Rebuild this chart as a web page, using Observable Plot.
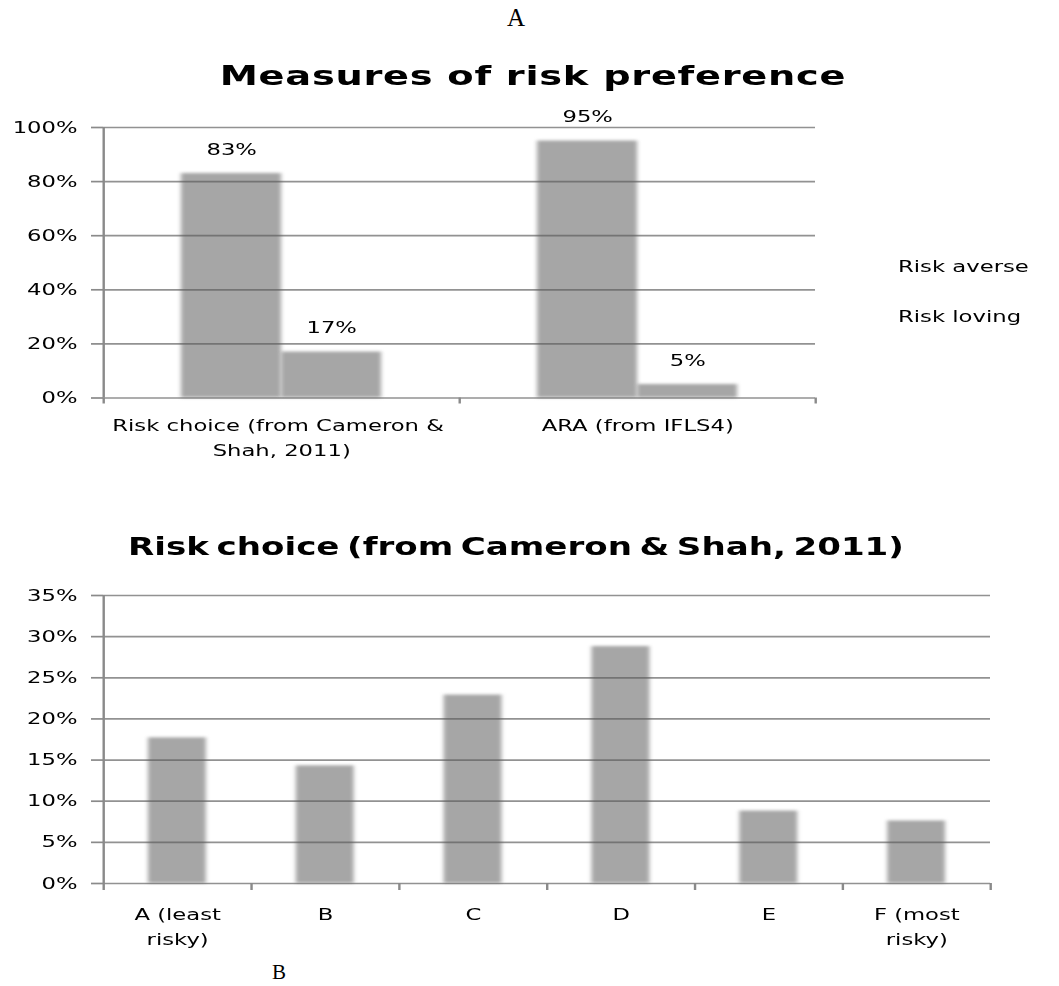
<!DOCTYPE html>
<html>
<head>
<meta charset="utf-8">
<script src="https://cdn.jsdelivr.net/npm/d3@7"></script>
<script src="https://cdn.jsdelivr.net/npm/@observablehq/plot@0.6"></script>
<style>
  body { margin: 0; background: #fff; }
  #page { position: relative; width: 1059px; height: 986px; overflow: hidden; background: #fff; }
  .serif { position: absolute; font-family: "Liberation Serif", "Times New Roman", serif; color: #000; line-height: 1; }
  #stretch { position: absolute; left: 0; top: 0; height: 986px; transform-origin: 0 0;
             font-family: "DejaVu Sans", sans-serif; color: #000; }
  .abs { position: absolute; white-space: nowrap; line-height: 1; }
  .title { font-weight: bold; transform: translateX(-50%); }
  .legend { font-size: 16px; }
</style>
</head>
<body>
<div id="page">
  <div class="serif" style="left:507px;top:5px;font-size:25px;">A</div>
  <div id="stretch"></div>
  <div class="serif" style="left:272px;top:962px;font-size:21px;">B</div>
</div>
<script>
// ---------- data ----------
// Panel A: Measures of risk preference
const prefCategories = ["Risk choice (from Cameron & \nShah, 2011)", "ARA (from IFLS4)"];
const prefSeries = ["Risk averse", "Risk loving"];
const riskAverse = [0.83, 0.95];
const riskLoving = [0.17, 0.05];
const prefTicks = [0, 0.2, 0.4, 0.6, 0.8, 1.0];

// Panel B: Risk choice (from Cameron & Shah, 2011)
const choiceCategories = ["A (least\nrisky)", "B", "C", "D", "E", "F (most\nrisky)"];
const choiceShares = [0.177, 0.143, 0.229, 0.288, 0.088, 0.076];
const choiceTicks = [0, 0.05, 0.10, 0.15, 0.20, 0.25, 0.30, 0.35];

const titleA = "Measures of risk preference";
const titleB = "Risk choice (from Cameron & Shah, 2011)";

// ---------- layout / style ----------
const S = 1.42;                    // the original figure is stretched horizontally
const W = Math.round(1059 / S);
const barFill = "#a6a6a6";
const gridStroke = "#5a5a5a", gridOpacity = 0.66;
const axisStroke = "#8a8a8a";
const lineW = 1.7;
const pct = d3.format(".0%");
const plotStyle = { fontFamily: '"DejaVu Sans", sans-serif', fontSize: "16px",
                    background: "transparent", color: "#000", overflow: "visible" };

const stretch = document.getElementById("stretch");
stretch.style.width = W + "px";
stretch.style.transform = `scaleX(${S})`;

function addDiv(cls, text, css) {
  const d = document.createElement("div");
  d.className = cls;
  d.textContent = text;
  Object.assign(d.style, css);
  stretch.appendChild(d);
  return d;
}
function blurBars(svg) {
  svg.querySelectorAll('g[aria-label="rect"] rect').forEach(r => r.style.filter = "blur(1.5px)");
}

// ---------- Panel A ----------
const prefRows = prefCategories.flatMap((c, i) => [
  { i, series: prefSeries[0], value: riskAverse[i] },
  { i, series: prefSeries[1], value: riskLoving[i] }
]);
const averseRows = prefRows.filter(d => d.series === prefSeries[0]);
const lovingRows = prefRows.filter(d => d.series === prefSeries[1]);
const gapA = 78 / S;   // inset between band edge and bar group

const chartA = Plot.plot({
  width: W, height: 371,
  marginTop: 30, marginBottom: 70.5,
  marginLeft: 103 / S, marginRight: W - 815 / S,
  style: plotStyle,
  x: { domain: [0, prefCategories.length], axis: null },
  y: { domain: [0, 1], axis: null },
  marks: [
    Plot.rectY(averseRows, { x1: d => d.i, x2: d => d.i + 0.5, y: "value", fill: barFill, insetLeft: gapA }),
    Plot.rectY(lovingRows, { x1: d => d.i + 0.5, x2: d => d.i + 1, y: "value", fill: barFill, insetRight: gapA }),
    Plot.ruleY(prefTicks, { stroke: gridStroke, strokeOpacity: gridOpacity, strokeWidth: lineW }),
    Plot.ruleX([0], { y1: 0, y2: 1, stroke: axisStroke, strokeWidth: lineW }),
    Plot.axisY({ ticks: prefTicks, tickFormat: pct, tickSize: 12 / S, tickPadding: 10,
                 stroke: axisStroke, strokeWidth: lineW, fill: "#000", fontSize: 16, label: null }),
    Plot.axisX({ ticks: d3.range(prefCategories.length + 1), tickSize: 6, tickFormat: () => "",
                 stroke: axisStroke, strokeWidth: lineW, label: null }),
    Plot.text(averseRows, { x: d => d.i + 0.25, y: "value", text: d => pct(d.value), dx: gapA / 2, dy: -24,
                            fontSize: 16, fill: "#000" }),
    Plot.text(lovingRows, { x: d => d.i + 0.75, y: "value", text: d => pct(d.value), dx: -gapA / 2, dy: -24,
                            fontSize: 16, fill: "#000" }),
    Plot.text(prefCategories, { x: (d, i) => i + 0.5, text: d => d, frameAnchor: "bottom", lineAnchor: "top",
                                dy: 15.5, lineHeight: 1.5625, fontSize: 16, fill: "#000" })
  ]
});
blurBars(chartA);

// ---------- Panel B ----------
const choiceRows = choiceCategories.map((c, i) => ({ i, category: c, share: choiceShares[i] }));
const insetB = 45 / S;

const chartB = Plot.plot({
  width: W, height: 398,
  marginTop: 30, marginBottom: 80,
  marginLeft: 103 / S, marginRight: W - 990 / S,
  style: plotStyle,
  x: { domain: [0, choiceCategories.length], axis: null },
  y: { domain: [0, 0.35], axis: null },
  marks: [
    Plot.rectY(choiceRows, { x1: d => d.i, x2: d => d.i + 1, y: "share", fill: barFill,
                             insetLeft: insetB, insetRight: insetB }),
    Plot.ruleY(choiceTicks, { stroke: gridStroke, strokeOpacity: gridOpacity, strokeWidth: lineW }),
    Plot.ruleX([0], { y1: 0, y2: 0.35, stroke: axisStroke, strokeWidth: lineW }),
    Plot.axisY({ ticks: choiceTicks, tickFormat: pct, tickSize: 12 / S, tickPadding: 10,
                 stroke: axisStroke, strokeWidth: lineW, fill: "#000", fontSize: 16, label: null }),
    Plot.axisX({ ticks: d3.range(choiceCategories.length + 1), tickSize: 7, tickFormat: () => "",
                 stroke: axisStroke, strokeWidth: lineW, label: null }),
    Plot.text(choiceRows, { x: d => d.i + 0.5, text: "category", frameAnchor: "bottom", lineAnchor: "top",
                            dy: 19, lineHeight: 1.5625, fontSize: 16, fill: "#000" })
  ]
});
blurBars(chartB);

// ---------- assemble ----------
addDiv("abs title", titleA, { left: (533 / S) + "px", top: "62px", fontSize: "27px", letterSpacing: "0.5px" });
const holderA = addDiv("abs", "", { left: "0px", top: "97px" });
holderA.appendChild(chartA);
prefSeries.forEach((s, k) => addDiv("abs legend", s, { left: (898 / S) + "px", top: (259 + 50 * k) + "px" }));
addDiv("abs title", titleB, { left: (516 / S) + "px", top: "535px", fontSize: "24px", wordSpacing: "-3px" });
const holderB = addDiv("abs", "", { left: "0px", top: "565px" });
holderB.appendChild(chartB);
</script>
</body>
</html>
